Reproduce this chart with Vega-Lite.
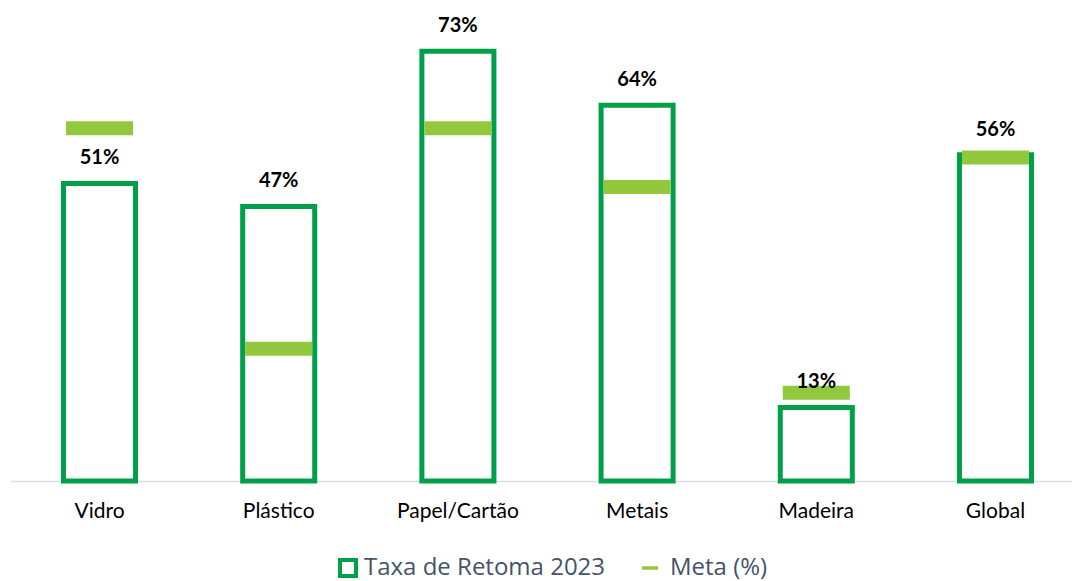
{
  "$schema": "https://vega.github.io/schema/vega-lite/v6.json",
  "width": 1062,
  "height": 481,
  "autosize": {"type": "none"},
  "padding": {"left": 10, "top": 0, "right": 0, "bottom": 100},
  "background": "white",
  "config": {"view": {"stroke": null}, "font": "Lato"},
  "data": {
    "values": [
      {"categoria": "Vidro", "taxa": 0.506, "meta": 0.60},
      {"categoria": "Plástico", "taxa": 0.467, "meta": 0.225},
      {"categoria": "Papel/Cartão", "taxa": 0.731, "meta": 0.60},
      {"categoria": "Metais", "taxa": 0.639, "meta": 0.50},
      {"categoria": "Madeira", "taxa": 0.125, "meta": 0.15},
      {"categoria": "Global", "taxa": 0.555, "meta": 0.55}
    ]
  },
  "encoding": {
    "x": {
      "field": "categoria",
      "type": "nominal",
      "sort": null,
      "scale": {"range": [0, 1075], "paddingInner": 0.598, "paddingOuter": 0.2985},
      "axis": {
        "title": null,
        "labelAngle": 0,
        "ticks": false,
        "domainColor": "#D9DEE3",
        "domainWidth": 1.5,
        "labelFont": "Lato",
        "labelFontSize": 21,
        "labelColor": "#000000",
        "labelPadding": 19
      }
    }
  },
  "layer": [
    {
      "mark": {"type": "bar", "fill": "white", "strokeWidth": 5},
      "encoding": {
        "y": {"field": "taxa", "type": "quantitative", "scale": {"domain": [0, 0.818], "nice": false}, "axis": null},
        "stroke": {
          "datum": "Taxa de Retoma 2023",
          "type": "nominal",
          "scale": {"range": ["#00A04A"]},
          "legend": {
            "orient": "none",
            "legendX": 326,
            "legendY": 556,
            "title": null,
            "padding": 0,
            "symbolType": "square",
            "symbolSize": 256,
            "symbolStrokeWidth": 4,
            "symbolFillColor": "white",
            "labelFont": "Open Sans",
            "labelFontSize": 24,
            "labelColor": "#44546A",
            "labelLimit": 400,
            "labelOffset": 4
          }
        }
      }
    },
    {
      "mark": {"type": "tick", "thickness": 14, "size": 67, "opacity": 1},
      "encoding": {
        "y": {"field": "meta", "type": "quantitative"},
        "color": {
          "datum": "Meta (%)",
          "type": "nominal",
          "scale": {"range": ["#92C83E"]},
          "legend": {
            "orient": "none",
            "legendX": 628,
            "legendY": 556,
            "title": null,
            "padding": 0,
            "symbolType": "M-1,-0.22H1V0.22H-1Z",
            "symbolSize": 256,
            "symbolStrokeWidth": 0,
            "symbolOpacity": 1,
            "labelFont": "Open Sans",
            "labelFontSize": 24,
            "labelColor": "#44546A",
            "labelLimit": 400,
            "labelOffset": 8
          }
        }
      }
    },
    {
      "mark": {"type": "text", "dy": -25, "baseline": "middle", "fontSize": 20, "fontWeight": "bold", "font": "Lato", "color": "#000000"},
      "encoding": {
        "y": {"field": "taxa", "type": "quantitative"},
        "text": {"field": "taxa", "type": "quantitative", "format": ".0%"}
      }
    }
  ]
}
